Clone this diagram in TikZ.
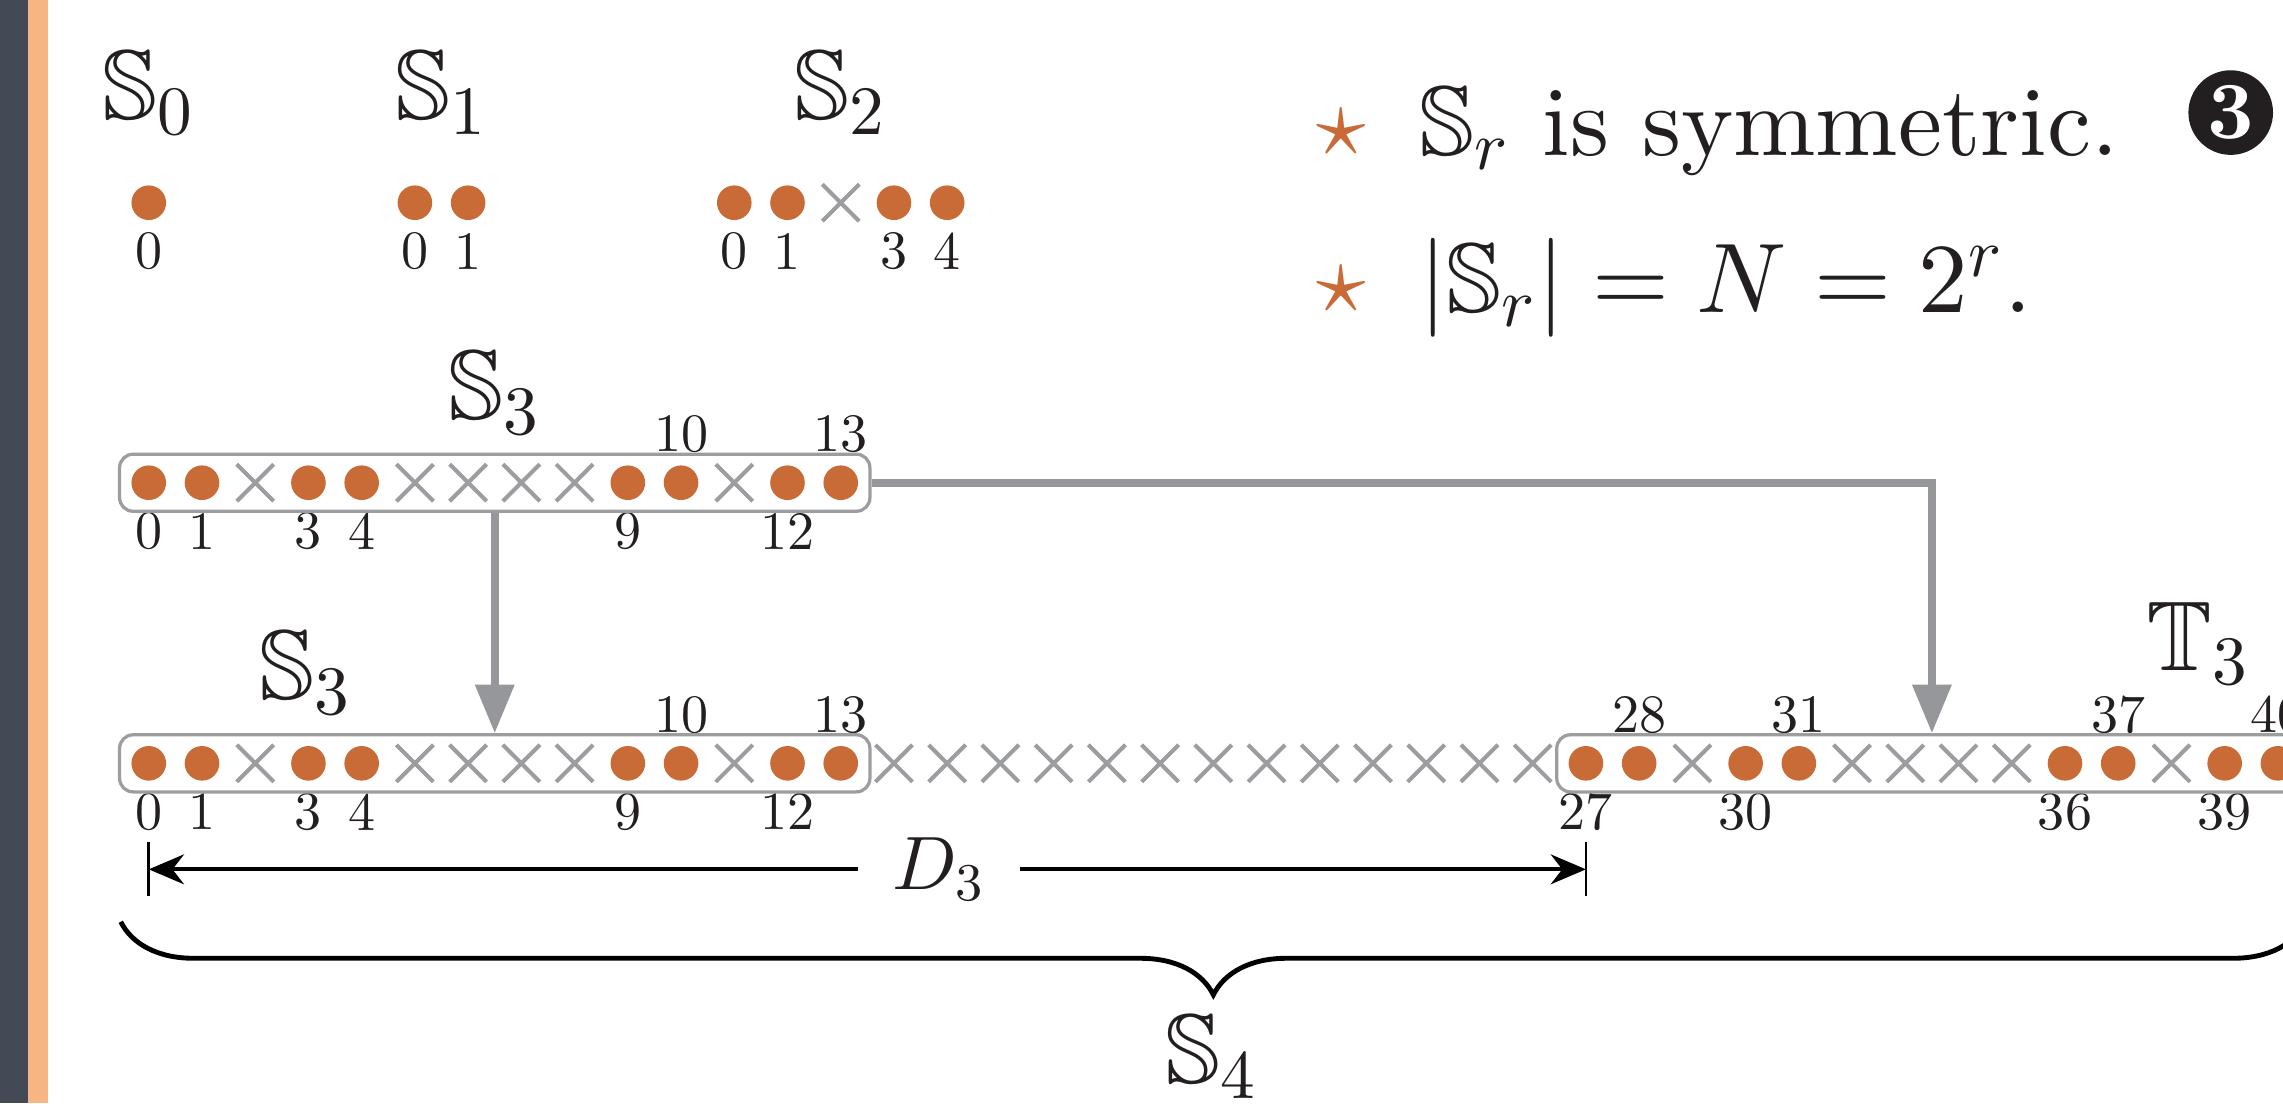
\documentclass[tikz,border=0pt]{standalone}
\usepackage[no-math]{fontspec}
\setmainfont{lmroman10-regular.otf}[BoldFont=lmroman10-bold.otf, ItalicFont=lmroman10-italic.otf]
\usepackage{amssymb}
\DeclareFontFamily{U}{msb}{}
\DeclareFontShape{U}{msb}{m}{n}{<-6> msbm5 <6-8> msbm7 <8-> msbm10}{}
\DeclareFontShape{OML}{cmm}{m}{it}{<-6> cmmi5 <6-7> cmmi6 <7-8> cmmi7 <8-9> cmmi8 <9-10> cmmi9 <10-> cmmi10}{}
\DeclareFontShape{OMS}{cmsy}{m}{n}{<-6> cmsy5 <6-7> cmsy6 <7-8> cmsy7 <8-9> cmsy8 <9-10> cmsy9 <10-> cmsy10}{}
\DeclareFontShape{OT1}{cmr}{m}{n}{<-6> cmr5 <6-7> cmr6 <7-8> cmr7 <8-9> cmr8 <9-10> cmr9 <10-> cmr10}{}
\usepackage{xcolor}
\definecolor{dotc}{HTML}{C96B37}
\definecolor{xgray}{HTML}{9C9DA1}
\definecolor{linkgray}{HTML}{96979B}
\definecolor{ink}{HTML}{231F20}
\definecolor{slate}{HTML}{434A56}
\definecolor{peach}{HTML}{F8B584}
\usetikzlibrary{arrows.meta, shapes.misc, fit, calc, decorations.pathreplacing}
\newcommand{\bigtxt}{\fontsize{18.3}{22}\selectfont}

\begin{document}
\begin{tikzpicture}[
  every node/.style={text=ink},
  hit/.style={circle, fill=dotc, minimum size=0.225cm, inner sep=0pt},
  miss/.style={cross out, draw=xgray, line width=0.75pt, minimum size=0.214cm, inner sep=0pt},
  box/.style={rectangle, rounded corners=2.5pt, draw=xgray, line width=0.6pt,
              inner xsep=0.07cm, inner ysep=0.066cm},
  num/.style={font=\normalsize, inner sep=0pt},
  lab/.style={font=\bigtxt, anchor=base, inner sep=0pt},
  link/.style={-{Triangle[length=9pt, width=7pt]}, draw=linkgray, line width=1.4pt},
  dim/.style={{Stealth[length=6.5pt, width=5.5pt]}-{Stealth[length=6.5pt, width=5.5pt]},
              line width=0.8pt}
]
  \useasboundingbox (0,0) rectangle (14.84,7.17);
  \clip (0,0) rectangle (14.84,7.17);
  \fill[slate] (0,0) rectangle (0.18,7.17);
  \fill[peach] (0.18,0) rectangle (0.31,7.17);

  % S_0, S_1, S_2
  \node[lab] (s0) at (0.967,6.39) {$\mathbb{S}_0$};
  \node[lab] (s1) at (2.870,6.39) {$\mathbb{S}_1$};
  \node[lab] (s2) at (5.465,6.39) {$\mathbb{S}_2$};
  \node[hit] (z0) at (0.967,5.852) {};
  \node[num] (nz0) at (0.967,5.537) {0};
  \foreach \i/\k in {0/5,1/6} {
    \node[hit] (o\i) at ({0.967+\k*0.346},5.852) {};
    \node[num] (no\i) at ({0.967+\k*0.346},5.537) {\i};
  }
  \foreach \i/\k in {0/11,1/12,3/14,4/15} {
    \node[hit] (w\i) at ({0.967+\k*0.346},5.852) {};
    \node[num] (nw\i) at ({0.967+\k*0.346},5.537) {\i};
  }
  \node[miss] (w2) at (5.465,5.852) {};

  % upper S_3
  \foreach \i in {0,1,3,4,9,10,12,13}
    \node[hit] (a\i) at ({0.967+\i*0.346},4.032) {};
  \foreach \i in {2,5,6,7,8,11}
    \node[miss] (a\i) at ({0.967+\i*0.346},4.032) {};
  \foreach \i in {0,1,3,4,9,12}
    \node[num] (na\i) at ({0.967+\i*0.346},3.717) {\i};
  \foreach \i in {10,13}
    \node[num] (na\i) at ({0.967+\i*0.346},4.347) {\i};
  \node[box, fit=(a0)(a13)] (top3) {};
  \node[lab] (l3) at (3.216,4.44) {$\mathbb{S}_3$};

  % S_4 = S_3, gap, T_3
  \foreach \i in {0,1,3,4,9,10,12,13,27,28,30,31,36,37,39,40}
    \node[hit] (b\i) at ({0.967+\i*0.346},2.208) {};
  \foreach \i in {2,5,6,7,8,11,29,32,33,34,35,38}
    \node[miss] (b\i) at ({0.967+\i*0.346},2.208) {};
  \foreach \i in {14,...,26}
    \node[miss] (b\i) at ({0.967+\i*0.346},2.208) {};
  \foreach \i in {0,1,3,4,9,12,27,30,36,39}
    \node[num] (nb\i) at ({0.967+\i*0.346},1.893) {\i};
  \foreach \i in {10,13,28,31,37,40}
    \node[num] (nb\i) at ({0.967+\i*0.346},2.523) {\i};
  \node[box, fit=(b0)(b13)] (bot3) {};
  \node[box, fit=(b27)(b40)] (tbox) {};
  \node[lab] (m3) at (1.989,2.62) {$\mathbb{S}_3$};
  \node[lab] (t3) at (14.29,2.8145) {$\mathbb{T}_3$};

  \draw[link] (top3.south) -- (bot3.north);
  \draw[link] (top3.east) -| (tbox.north);

  % D_3
  \coordinate (dl) at (0.967,1.519);
  \coordinate (dr) at (10.309,1.519);
  \draw[line width=0.5pt] ($(dl)+(0,0.175)$) -- ($(dl)+(0,-0.175)$);
  \draw[line width=0.5pt] ($(dr)+(0,0.175)$) -- ($(dr)+(0,-0.175)$);
  \draw[dim] (dl) -- node[pos=0.55, fill=white, inner xsep=6.4pt, inner ysep=0pt,
    font=\fontsize{14}{17}\selectfont] (d3) {$D_3$} (dr);

  \coordinate (bl) at (0.785,1.178);
  \coordinate (br) at (14.989,1.178);
  \draw[decorate, decoration={brace, mirror, amplitude=13.5pt}, line width=0.9pt] (bl) -- (br);
  \node[lab] (s4) at (7.878,0.125) {$\mathbb{S}_4$};

  % facts
  \node[lab, text=dotc] (st1) at (8.721,6.162) {$\star$};
  \node[lab, text=dotc] (st2) at (8.721,5.1415) {$\star$};
  \node[lab, anchor=base west] (fact1) at (9.217,6.162) {$\mathbb{S}_r$ is symmetric.};
  \node[lab, anchor=base west] (fact2) at (9.217,5.1415) {$\left|\mathbb{S}_r\right| = N = 2^r.$};
  \node[circle, fill=ink, text=white, inner sep=0pt, minimum size=0.55cm,
    font=\fontsize{15}{18}\selectfont\bfseries] (badge) at (14.50,6.438) {3};
\end{tikzpicture}
\end{document}
